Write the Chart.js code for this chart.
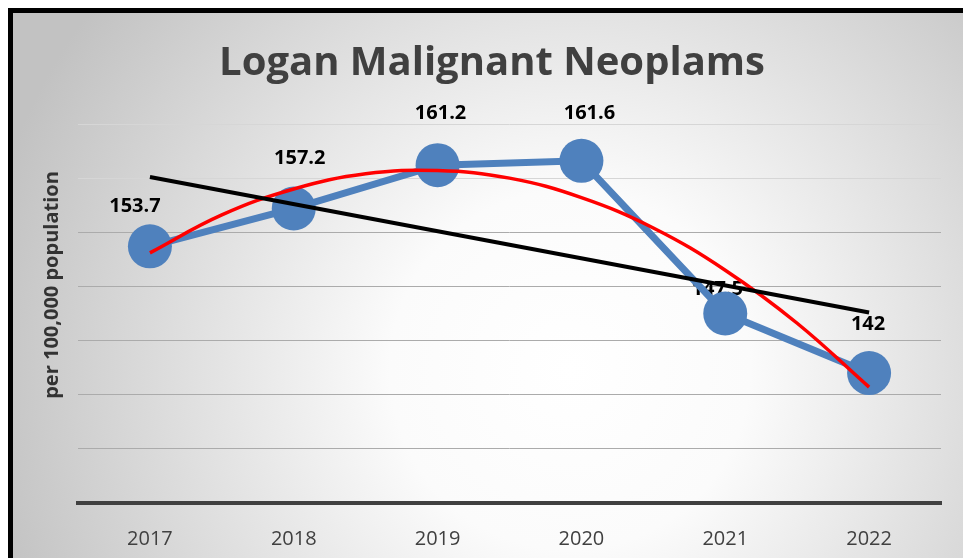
<!DOCTYPE html>
<html>
<head>
<meta charset="utf-8">
<script src="https://cdn.jsdelivr.net/npm/chart.js@4/dist/chart.umd.min.js"></script>
<style>
  html, body { margin: 0; padding: 0; background: #fff; }
  #wrap { width: 963px; height: 558px; }
</style>
</head>
<body>
<div id="wrap"><canvas id="chart" width="963" height="558"></canvas></div>
<script>
const years = ['2017', '2018', '2019', '2020', '2021', '2022'];
const rates = [153.7, 157.2, 161.2, 161.6, 147.5, 142];

// trendlines
const linearTrendX = [0, 5];
const linearTrend = [160.1, 147.6];
const polyTrendX = [0, 0.5, 1, 1.5, 2, 2.5, 3, 3.5, 4, 4.5, 5];
const polyTrend = [153.1, 156.6, 159.0, 160.4, 160.7, 160.0, 158.2, 155.4, 151.5, 146.6, 140.7];

const yMin = 130;
const yMax = 165;
const yStep = 5;

const BLUE = '#4f81bd';

const toPoints = (xs, ys) => ys.map((y, i) => ({ x: xs[i], y }));

const frame = {
  id: 'frame',
  beforeDraw(chart) {
    const { ctx, width, height } = chart;
    ctx.save();
    ctx.fillStyle = '#fff';
    ctx.fillRect(0, 0, width, height);
    const g = ctx.createRadialGradient(570, 370, 0, 570, 370, 600);
    g.addColorStop(0, '#ffffff');
    g.addColorStop(0.3, '#fbfbfb');
    g.addColorStop(1, '#c2c2c2');
    ctx.fillStyle = g;
    ctx.fillRect(13, 13, width - 13, height - 13);
    ctx.fillStyle = '#000';
    ctx.fillRect(8, 8, width - 8, 5);
    ctx.fillRect(8, 8, 5, height - 8);

    ctx.fillStyle = '#404040';
    ctx.textAlign = 'center';
    ctx.textBaseline = 'middle';
    ctx.font = 'bold 40px "Open Sans"';
    ctx.fillText('Logan Malignant Neoplams', 492, 64);

    ctx.translate(52, 285);
    ctx.rotate(-Math.PI / 2);
    ctx.fillStyle = '#333';
    ctx.font = 'bold 20px "Open Sans"';
    ctx.fillText('per 100,000 population', 0, 0);
    ctx.restore();
  }
};

// value labels sit under the lines, like in the original
const labelShift = [[-15, -40], [6, -50], [3, -52], [8, -48], [-8, -24], [-1, -49]];
const valueLabels = {
  id: 'valueLabels',
  beforeDatasetsDraw(chart) {
    const { ctx } = chart;
    const meta = chart.getDatasetMeta(0);
    ctx.save();
    ctx.fillStyle = '#000';
    ctx.font = 'bold 20px "Open Sans"';
    ctx.textAlign = 'center';
    ctx.textBaseline = 'middle';
    meta.data.forEach((pt, i) => {
      const [dx, dy] = labelShift[i];
      ctx.fillText(String(rates[i]), pt.x + dx, pt.y + dy);
    });
    ctx.restore();
  }
};

new Chart(document.getElementById('chart'), {
  type: 'line',
  data: {
    datasets: [
      {
        label: 'Malignant Neoplasms',
        data: toPoints(years.map((_, i) => i), rates),
        borderColor: BLUE,
        borderWidth: 7,
        pointRadius: 22,
        pointBackgroundColor: BLUE,
        pointBorderWidth: 0,
        order: 3
      },
      {
        label: 'Poly. trend',
        data: toPoints(polyTrendX, polyTrend),
        borderColor: '#ff0000',
        borderWidth: 3.5,
        pointRadius: 0,
        tension: 0.4,
        order: 2
      },
      {
        label: 'Linear trend',
        data: toPoints(linearTrendX, linearTrend),
        borderColor: '#000000',
        borderWidth: 4,
        pointRadius: 0,
        order: 1
      }
    ]
  },
  options: {
    responsive: false,
    devicePixelRatio: 1,
    animation: false,
    layout: { padding: { top: 124, right: 20, bottom: 0, left: 0 } },
    plugins: {
      legend: { display: false },
      tooltip: { enabled: false }
    },
    scales: {
      x: {
        type: 'linear',
        min: -0.5,
        max: 5.5,
        afterBuildTicks: (scale) => { scale.ticks = years.map((_, i) => ({ value: i })); },
        afterFit: (scale) => { scale.height = 55; },
        grid: { display: false },
        border: { display: true, color: '#404040', width: 4 },
        ticks: {
          padding: 16,
          color: '#404040',
          font: { family: 'Open Sans', size: 20 },
          callback: (v) => years[v] ?? ''
        }
      },
      y: {
        min: yMin,
        max: yMax,
        afterFit: (scale) => { scale.width = 78; },
        border: { display: false },
        grid: {
          drawTicks: false,
          color: (c) => (c.tick && c.tick.value >= 160 ? '#d6d6d6' : '#ababab'),
          lineWidth: 1
        },
        ticks: { display: false, stepSize: yStep }
      }
    }
  },
  plugins: [frame, valueLabels]
});
</script>
</body>
</html>
